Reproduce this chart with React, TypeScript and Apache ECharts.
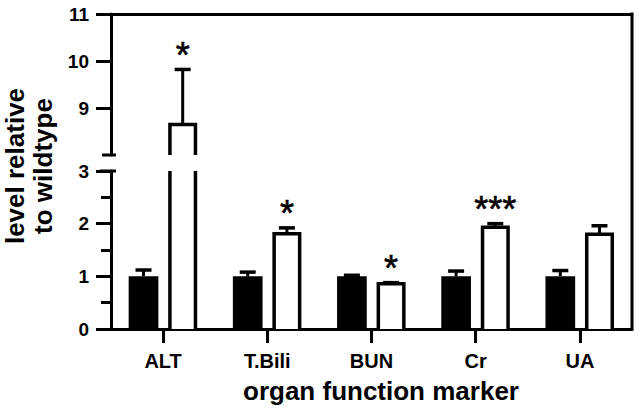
import React, { useEffect, useRef } from "react";
import * as echarts from "echarts";

// ---- data ----
const categories = ["ALT", "T.Bili", "BUN", "Cr", "UA"];
const wildtypeMean = [1.0, 1.0, 1.0, 1.0, 1.0];
const wildtypeSem = [0.12, 0.08, 0.02, 0.1, 0.11];
const knockoutMean = [8.65, 1.81, 0.86, 1.93, 1.8];
const knockoutSem = [1.17, 0.11, 0.02, 0.07, 0.16];
const significance = ["*", "*", "*", "***", ""];
const upperTicks = [9, 10, 11];

// ---- layout ----
const W = 640;
const H = 411;
const LEFT = 111;
const RIGHT_X = 632;
const TOP = 14;
const BREAK_TOP = 155;
const BREAK_BOTTOM = 171;
const BOTTOM = 329;
const FONT = "Arial, 'Liberation Sans', sans-serif";

function makeRender(kind: "black" | "white", isLower: boolean) {
  return (params: any, api: any) => {
    const i = api.value(0);
    const mean = api.value(1);
    const sem = api.value(2);
    const cs = params.coordSys;
    const yMinPx = cs.y + cs.height;
    const yMaxPx = cs.y;
    const band = api.size([1, 0])[0];
    const p = api.coord([i, mean]);
    const offset = kind === "black" ? -0.188 : 0.188;
    const cx = p[0] + offset * band;
    const yTop = p[1];
    if (yTop > yMinPx + 0.5) return { type: "group", children: [] };
    const clipped = yTop < yMaxPx;
    const y1 = Math.max(yTop, yMaxPx);
    const yErr = api.coord([i, mean + sem])[1];
    const children: any[] = [];
    const stroke = "#000";
    if (kind === "black") {
      const w = 0.285 * band;
      children.push({
        type: "rect",
        shape: { x: cx - w / 2, y: y1, width: w, height: yMinPx - y1 },
        style: { fill: "#000" },
      });
    } else {
      const w = 0.245 * band;
      const l = cx - w / 2;
      const r = cx + w / 2;
      children.push({
        type: "rect",
        shape: { x: l, y: y1, width: w, height: yMinPx - y1 },
        style: { fill: "#fff" },
      });
      if (!clipped) {
        children.push({
          type: "polyline",
          shape: { points: [[l, yMinPx], [l, y1], [r, y1], [r, yMinPx]] },
          style: { stroke, lineWidth: 3.5, fill: "none", lineJoin: "miter" },
        });
      } else {
        children.push({
          type: "line",
          shape: { x1: l, y1: y1, x2: l, y2: yMinPx },
          style: { stroke, lineWidth: 3.5 },
        });
        children.push({
          type: "line",
          shape: { x1: r, y1: y1, x2: r, y2: yMinPx },
          style: { stroke, lineWidth: 3.5 },
        });
      }
    }
    if (!clipped && yErr >= yMaxPx) {
      children.push({
        type: "line",
        shape: { x1: cx, y1: yTop, x2: cx, y2: yErr },
        style: { stroke, lineWidth: 3 },
      });
      children.push({
        type: "line",
        shape: { x1: cx - 8, y1: yErr, x2: cx + 8, y2: yErr },
        style: { stroke, lineWidth: 3.5 },
      });
      const sig = kind === "white" ? significance[i] : "";
      if (sig) {
        children.push({
          type: "text",
          x: cx,
          y: yErr - 14,
          style: {
            text: sig,
            font: `36px ${FONT}`,
            fill: "#000",
            stroke: "#000",
            lineWidth: 0.6,
            textAlign: "center",
            textVerticalAlign: "middle",
          },
        });
      }
    }
    return { type: "group", children };
  };
}

const wtData = categories.map((_, i) => [i, wildtypeMean[i], wildtypeSem[i]]);
const koData = categories.map((_, i) => [i, knockoutMean[i], knockoutSem[i]]);

const axisLine = { show: true, onZero: false, lineStyle: { color: "#000", width: 3 } };
const labelStyle = { color: "#000", fontFamily: FONT, fontWeight: "bold" as const };

export default function App() {
  const ref = useRef<HTMLDivElement>(null);
  useEffect(() => {
    if (!ref.current) return;
    const chart = echarts.init(ref.current, undefined, { renderer: "svg" });
    chart.setOption({
      animation: false,
      backgroundColor: "#fff",
      grid: [
        { left: LEFT, right: W - RIGHT_X, top: TOP, height: BREAK_TOP - TOP, outerBoundsMode: "none" },
        { left: LEFT, right: W - RIGHT_X, top: BREAK_BOTTOM, height: BOTTOM - BREAK_BOTTOM, outerBoundsMode: "none" },
      ],
      xAxis: [
        {
          gridIndex: 0,
          type: "category",
          data: categories,
          position: "top",
          axisLine,
          axisTick: { show: false },
          axisLabel: { show: false },
          splitLine: { show: false },
        },
        {
          gridIndex: 1,
          type: "category",
          data: categories,
          position: "bottom",
          axisLine,
          axisTick: { show: true, alignWithLabel: true, length: 14, lineStyle: { color: "#000", width: 3 } },
          axisLabel: { ...labelStyle, fontSize: 20, margin: 22 },
          splitLine: { show: false },
        },
      ],
      yAxis: [
        {
          gridIndex: 0,
          type: "value",
          min: 8,
          max: 11,
          interval: 1,
          axisLine,
          axisTick: { show: true, length: 15, customValues: upperTicks, lineStyle: { color: "#000", width: 3 } },
          axisLabel: { ...labelStyle, fontSize: 19, margin: 22, customValues: upperTicks },
          splitLine: { show: false },
        },
        {
          gridIndex: 1,
          type: "value",
          min: 0,
          max: 3,
          interval: 1,
          axisLine,
          axisTick: { show: true, length: 15, lineStyle: { color: "#000", width: 3 } },
          minorTick: { show: true, splitNumber: 2, length: 10, lineStyle: { color: "#000", width: 3 } },
          axisLabel: { ...labelStyle, fontSize: 19, margin: 22 },
          splitLine: { show: false },
          minorSplitLine: { show: false },
        },
      ],
      series: [
        { type: "custom", name: "wildtype", xAxisIndex: 1, yAxisIndex: 1, data: wtData, encode: { x: 0, y: 1 }, renderItem: makeRender("black", true), clip: false },
        { type: "custom", name: "knockout", xAxisIndex: 1, yAxisIndex: 1, data: koData, encode: { x: 0, y: 1 }, renderItem: makeRender("white", true), clip: false },
        { type: "custom", name: "wildtype-upper", xAxisIndex: 0, yAxisIndex: 0, data: wtData, encode: { x: 0, y: 1 }, renderItem: makeRender("black", false), clip: false },
        { type: "custom", name: "knockout-upper", xAxisIndex: 0, yAxisIndex: 0, data: koData, encode: { x: 0, y: 1 }, renderItem: makeRender("white", false), clip: false },
      ],
      graphic: [
        { type: "line", shape: { x1: RIGHT_X, y1: TOP - 1.5, x2: RIGHT_X, y2: BOTTOM + 1.5 }, style: { stroke: "#000", lineWidth: 3 } },
        { type: "line", shape: { x1: LEFT - 9, y1: BREAK_TOP, x2: LEFT + 5, y2: BREAK_TOP }, style: { stroke: "#000", lineWidth: 3 } },
        { type: "line", shape: { x1: LEFT - 11, y1: BREAK_BOTTOM, x2: LEFT + 5, y2: BREAK_BOTTOM }, style: { stroke: "#000", lineWidth: 3 } },
        {
          type: "text",
          x: 29,
          y: 166,
          rotation: Math.PI / 2,
          style: {
            text: "level relative\nto wildtype",
            font: `bold 26px ${FONT}`,
            lineHeight: 28,
            fill: "#000",
            textAlign: "center",
            textVerticalAlign: "middle",
          },
        },
        {
          type: "text",
          x: 381,
          y: 391,
          style: {
            text: "organ function marker",
            font: `bold 26px ${FONT}`,
            fill: "#000",
            textAlign: "center",
            textVerticalAlign: "middle",
          },
        },
      ],
    });
    return () => chart.dispose();
  }, []);
  return (
    <div
      ref={ref}
      style={{ position: "fixed", left: 0, top: 0, width: W, height: H, background: "#fff" }}
    />
  );
}
